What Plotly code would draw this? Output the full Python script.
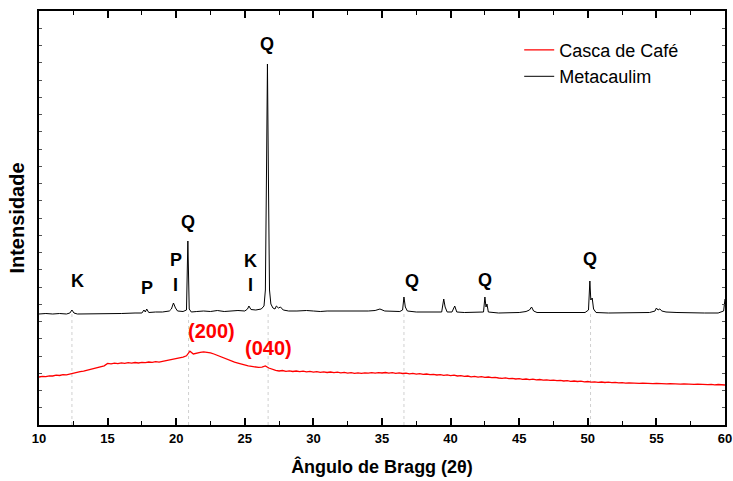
import numpy as np
import plotly.graph_objects as go

# --- Metacaulim diffractogram (2θ in degrees, intensity in a.u.) ---
meta_2theta = [
    10.0, 10.5, 11.0, 11.5, 12.0, 12.25, 12.4, 12.55, 12.8, 13.5, 14.0, 15.0, 16.0, 17.0,
    17.5, 17.65, 17.75, 17.85, 18.0, 18.5, 19.0, 19.5, 19.65, 19.8, 19.95, 20.1, 20.5,
    20.75, 20.85, 20.95, 21.1, 21.5, 22.0, 22.5, 23.0, 23.5, 24.0, 24.5, 25.0, 25.2, 25.3,
    25.45, 25.8, 26.2, 26.4, 26.5, 26.58, 26.65, 26.72, 26.8, 26.9, 27.05, 27.2, 27.3,
    27.45, 27.6, 27.8, 28.2, 28.8, 29.5, 30.0, 30.5, 31.0, 31.5, 32.0, 32.5, 33.0, 33.5,
    34.0, 34.5, 34.85, 35.2, 35.8, 36.3, 36.5, 36.6, 36.7, 36.85, 37.5, 38.0, 38.5, 39.0,
    39.35, 39.5, 39.6, 39.75, 40.1, 40.3, 40.45, 41.0, 41.5, 42.0, 42.4, 42.5, 42.58,
    42.65, 42.75, 43.5, 44.0, 44.5, 45.0, 45.5, 45.75, 45.9, 46.05, 46.3, 47.0, 48.0,
    49.0, 49.8, 50.05, 50.15, 50.22, 50.32, 50.42, 50.6, 51.5, 52.5, 53.5, 54.5, 54.9,
    55.0, 55.12, 55.25, 55.4, 55.7, 56.5, 57.5, 58.5, 59.5, 59.9, 60.0,
]
meta_int = [
    111, 111.5, 111, 111.5, 111, 112, 115, 112, 111, 111, 111.5, 111, 111.5, 112,
    112, 115, 113, 116, 112.5, 113, 113, 114, 116, 122, 117, 114, 113.5,
    115, 184, 116, 113, 113.5, 114, 113.5, 114.5, 113.5, 114, 114.5, 114, 116, 119,
    115.5, 115, 116, 119, 135, 250, 361, 250, 135, 121, 117, 116, 119,
    117, 118, 115, 114, 114, 114.5, 114, 113.5, 114, 114, 113.5, 114, 113.5, 113.5,
    114, 114.5, 116, 114, 113.5, 113.5, 115, 128, 118, 114, 113, 113, 112.5, 113,
    113, 126, 118, 113, 113, 119, 113, 112.5, 112.5, 112.5, 113, 128, 118,
    121, 113, 112, 112, 112, 112.5, 113.5, 115, 118, 114, 112.5, 112.5, 112,
    112, 112.5, 115, 144, 125, 127, 116, 112.5, 112, 112, 112, 112.5, 114,
    117, 115, 116, 114, 113, 112.5, 112, 112, 112, 114, 126,
]

# --- Casca de Café diffractogram, 0.25° step scan from 10° to 60° ---
cafe_2theta = np.linspace(10, 60, 201)
cafe_int = [
    48.0, 48.6, 48.3, 49.2, 49.0, 49.8, 49.5, 50.4, 50.1, 51.0,
    52.0, 52.6, 53.3, 53.9, 54.8, 55.3, 56.2, 56.9, 58.0, 59.2,
    61.6, 61.2, 61.9, 61.4, 62.1, 61.7, 62.3, 61.9, 62.5, 62.0,
    62.7, 62.3, 63.0, 62.6, 63.3, 62.9, 63.6, 64.2, 64.9, 65.5,
    66.3, 67.0, 67.9, 69.2, 73.8, 71.0, 72.0, 72.6, 73.2, 72.8,
    72.2, 71.0, 69.6, 68.2, 66.8, 65.2, 64.1, 62.8, 61.9, 60.8,
    60.2, 59.1, 58.6, 58.0, 57.6, 57.9, 59.0, 57.0, 55.4, 54.6,
    54.0, 54.5, 53.7, 54.2, 53.5, 54.0, 53.3, 53.8, 53.1, 53.6,
    52.9, 53.4, 52.7, 53.2, 52.5, 53.0, 52.3, 52.8, 52.2, 52.6,
    51.9, 52.4, 51.7, 52.2, 51.6, 52.1, 51.8, 52.3, 51.9, 52.4,
    52.0, 52.5, 51.8, 52.3, 51.7, 52.1, 51.5, 51.9, 51.2, 51.6,
    50.9, 51.3, 50.6, 51.0, 50.3, 50.7, 50.0, 50.4, 49.7, 50.1,
    49.4, 49.8, 49.0, 49.4, 48.6, 49.0, 48.2, 48.6, 47.9, 48.3,
    47.6, 48.0, 47.3, 47.7, 47.0, 46.6, 47.1, 46.3, 46.7, 46.0,
    46.3, 45.7, 46.0, 45.4, 45.8, 45.2, 45.5, 44.9, 45.2, 44.6,
    44.9, 44.3, 44.6, 44.0, 44.3, 43.7, 44.0, 43.5, 43.8, 43.2,
    43.5, 42.9, 43.2, 42.7, 43.0, 42.5, 42.8, 42.3, 42.6, 42.1,
    42.4, 41.9, 42.2, 41.8, 42.1, 41.6, 41.9, 41.5, 41.8, 41.4,
    41.7, 41.3, 41.6, 41.1, 41.4, 41.0, 41.3, 40.9, 41.2, 40.8,
    41.0, 40.6, 40.9, 40.5, 40.8, 40.4, 40.7, 40.2, 40.5, 40.1,
    40.0,
]

# Phase identification labels (K caulinita, P, I, Q quartzo)
phase_labels = ["K", "P", "P", "I", "Q", "K", "I", "Q", "Q", "Q", "Q"]
phase_x = [12.77, 17.87, 19.98, 19.98, 20.86, 25.45, 25.45, 26.62, 37.19, 42.5, 50.16]
phase_y = [144, 137, 165, 140, 203, 164, 140, 381, 144, 145, 166]

# Crystallographic planes of the cellulose halo
plane_labels = ["(200)", "(040)"]
plane_x = [22.6, 26.76]
plane_y = [94, 77]

# Reference positions shared by both patterns
ref_2theta = [12.4, 20.9, 26.7, 36.6, 50.2]
ref_top = 111

FONT = "Liberation Sans, Arial, sans-serif"

fig = go.Figure()
fig.add_trace(go.Scatter(
    x=cafe_2theta, y=cafe_int, mode="lines", name="Casca de Café",
    line=dict(color="#ff0000", width=1.3),
))
fig.add_trace(go.Scatter(
    x=meta_2theta, y=meta_int, mode="lines", name="Metacaulim",
    line=dict(color="#000000", width=1),
))

for xv in ref_2theta:
    fig.add_shape(type="line", x0=xv, x1=xv, y0=0, y1=ref_top, xref="x", yref="y",
                  line=dict(color="#d0d0d0", width=1, dash="dot"), layer="below")

for txt, xv, yv in zip(phase_labels, phase_x, phase_y):
    fig.add_annotation(x=xv, y=yv, text=txt, showarrow=False,
                       font=dict(family=FONT, size=18, color="black", weight="bold"))

for txt, xv, yv in zip(plane_labels, plane_x, plane_y):
    fig.add_annotation(x=xv, y=yv, text=txt, showarrow=False,
                       font=dict(family=FONT, size=20, color="#ff0000", weight="bold"))

fig.update_layout(
    width=733, height=481,
    margin=dict(l=39, r=8, t=11, b=56, autoexpand=False),
    paper_bgcolor="white", plot_bgcolor="white",
    font=dict(family=FONT, color="black"),
    showlegend=True,
    legend=dict(x=0.70, y=0.95, xanchor="left", yanchor="top",
                bgcolor="rgba(0,0,0,0)", font=dict(family=FONT, size=18),
                tracegroupgap=0, itemwidth=30),
)
fig.update_xaxes(
    range=[10, 60], tick0=10, dtick=5, automargin=False,
    ticks="inside", ticklen=7, tickwidth=1.5, tickcolor="black",
    minor=dict(dtick=2.5, ticks="inside", ticklen=4, tickwidth=1.2, tickcolor="black"),
    showline=True, linewidth=2, linecolor="black", mirror="ticks",
    showgrid=False, zeroline=False,
    tickfont=dict(family=FONT, size=13, weight="bold"),
    title=dict(text="Ângulo de Bragg (2θ)", standoff=16,
               font=dict(family=FONT, size=18, weight="bold")),
)
fig.update_yaxes(
    range=[0, 414], tick0=0, dtick=17.25, automargin=False,
    ticks="inside", ticklen=3, tickwidth=1, tickcolor="#555555",
    showticklabels=False,
    showline=True, linewidth=2, linecolor="black", mirror="ticks",
    showgrid=False, zeroline=False,
    title=dict(text="Intensidade", standoff=7,
               font=dict(family=FONT, size=20, weight="bold")),
)

fig.write_html("out.html")
